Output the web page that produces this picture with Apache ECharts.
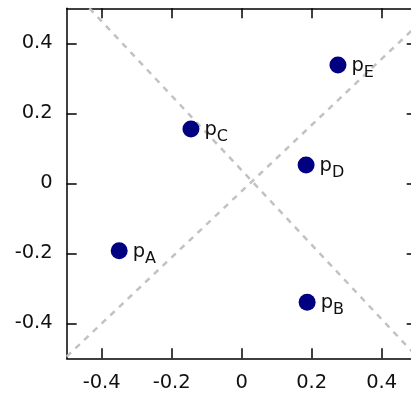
<!DOCTYPE html>
<html>
<head>
<meta charset="utf-8">
<script src="https://cdn.jsdelivr.net/npm/echarts@6/dist/echarts.min.js"></script>
<style>
  html, body { margin: 0; padding: 0; background: #fff; overflow: hidden; }
  #chart { width: 411px; height: 396px; }
</style>
</head>
<body>
<div id="chart"></div>
<script>
// Point names (subscripts) and coordinates
const pointNames = ['A', 'B', 'C', 'D', 'E'];
const pointX = [-0.35, 0.187, -0.145, 0.184, 0.275];
const pointY = [-0.193, -0.34, 0.155, 0.052, 0.338];

// Two dashed reference lines, given by their end points
const line1X = [-0.435, 0.5];
const line1Y = [0.5, -0.495];
const line2X = [-0.5, 0.5];
const line2Y = [-0.495, 0.45];

// Tick values shown on both axes
const tickValues = [-0.4, -0.2, 0, 0.2, 0.4];

const axisColor = '#000';
const fontFamily = 'DejaVu Sans';

function fmt(v) {
  return v === 0 ? '0' : String(Number(v.toFixed(1)));
}

function mainAxis(showLabels, position) {
  return {
    type: 'value',
    min: -0.5,
    max: 0.5,
    position: position,
    axisLine: { show: true, onZero: false, lineStyle: { color: axisColor, width: 1.5 } },
    axisTick: {
      show: true, inside: true, length: 10,
      customValues: tickValues,
      lineStyle: { color: axisColor, width: 1.5 }
    },
    axisLabel: {
      show: showLabels,
      customValues: tickValues,
      formatter: fmt,
      color: '#111',
      fontFamily: fontFamily,
      fontSize: 19.5
    },
    splitLine: { show: false }
  };
}

const xMain = mainAxis(true, 'bottom');
xMain.axisLabel.margin = 15;
const yMain = mainAxis(true, 'left');
yMain.axisLabel.margin = 14;

const option = {
  animation: false,
  backgroundColor: '#fff',
  grid: {
    left: 66.7, top: 8.3, width: 350, height: 350,
    containLabel: false,
    outerBoundsMode: 'none'
  },
  xAxis: [xMain, mainAxis(false, 'top')],
  yAxis: [yMain, mainAxis(false, 'right')],
  series: [
    {
      type: 'line',
      data: line1X.map((x, i) => [x, line1Y[i]]),
      showSymbol: false,
      symbol: 'none',
      lineStyle: { color: '#c2c2c2', width: 2.5, type: [6, 6] },
      z: 1
    },
    {
      type: 'line',
      data: line2X.map((x, i) => [x, line2Y[i]]),
      showSymbol: false,
      symbol: 'none',
      lineStyle: { color: '#c2c2c2', width: 2.5, type: [6, 6] },
      z: 1
    },
    {
      type: 'scatter',
      symbol: 'circle',
      symbolSize: 17,
      itemStyle: { color: '#000080', opacity: 1 },
      data: pointX.map((x, i) => ({ value: [x, pointY[i]], name: pointNames[i] })),
      label: {
        show: true,
        position: 'right',
        distance: 5,
        formatter: p => '{p|p}{s|' + p.name + '}',
        rich: {
          p: { fontFamily: fontFamily, fontSize: 19.5, color: '#111', verticalAlign: 'bottom', lineHeight: 22 },
          s: { fontFamily: fontFamily, fontSize: 16, color: '#111', verticalAlign: 'bottom', lineHeight: 16, padding: [0, 0, -5, 0] }
        }
      },
      z: 3
    }
  ]
};

const chart = echarts.init(document.getElementById('chart'), null, { renderer: 'canvas' });
chart.setOption(option);
</script>
</body>
</html>
